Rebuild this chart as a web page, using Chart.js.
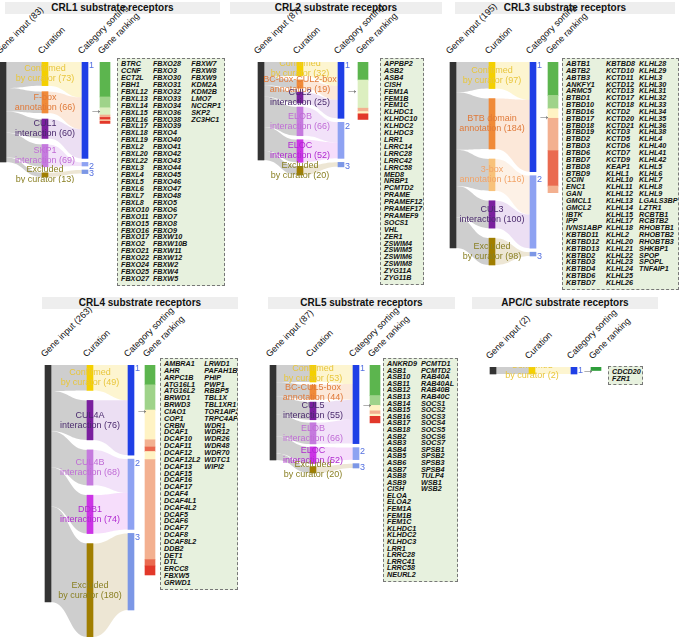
<!DOCTYPE html>
<html>
<head>
<meta charset="utf-8">
<script src="https://cdn.jsdelivr.net/npm/chart.js@4.4.1/dist/chart.umd.min.js"></script>
<style>
  body { margin: 0; background: #fff; font-family: 'Liberation Sans', Arial, sans-serif; }
  #page { position: relative; width: 680px; height: 637px; overflow: hidden; }
  .title { position: absolute; height: 12px; background: #eeeeee; font-weight: bold; font-size: 10px; line-height: 12px; text-align: center; color: #111; }
  .hdr { position: absolute; font-size: 9px; color: #111; white-space: nowrap; transform-origin: 0 100%; transform: rotate(-45deg); }
  .cv { position: absolute; }
  .genes { position: absolute; box-sizing: border-box; border: 1px dashed #777; background: #e7f1de; padding: 2px 3px; overflow: hidden;
           display: grid; grid-auto-flow: column; column-gap: 4px; font-size: 7.2px; font-weight: bold; font-style: italic; color: #111; }
  .genes div { overflow: visible; white-space: nowrap; }
</style>
</head>
<body>
<div id="page"></div>
<script>
// ---- data ----
var crl1Input = 83;
var crl1CurLabels = ['Confirmed\nby curator', 'F-box\nannotation', 'CUL1\ninteraction', 'SKP1\ninteraction', 'Excluded\nby curator'];
var crl1CurCounts = [73, 66, 60, 69, 13];
var crl1Targets = [0, 0, 0, 1, 2];
var crl1Sort = [80, 3, 3];
var crl1Rank = [29, 9, 6, 2, 2, 1, 2];
var crl1Genes = ['BTRC','CCNF','ECT2L','FBH1','FBXL12','FBXL13','FBXL14','FBXL15','FBXL16','FBXL17','FBXL18','FBXL19','FBXL2','FBXL20','FBXL22','FBXL3','FBXL4','FBXL5','FBXL6','FBXL7','FBXL8','FBXO10','FBXO11','FBXO15','FBXO16','FBXO17','FBXO2','FBXO21','FBXO22','FBXO24','FBXO25','FBXO27',
  'FBXO28','FBXO3','FBXO30','FBXO31','FBXO32','FBXO33','FBXO34','FBXO36','FBXO38','FBXO39','FBXO4','FBXO40','FBXO41','FBXO42','FBXO43','FBXO44','FBXO45','FBXO46','FBXO47','FBXO48','FBXO5','FBXO6','FBXO7','FBXO8','FBXO9','FBXW10','FBXW10B','FBXW11','FBXW12','FBXW2','FBXW4','FBXW5',
  'FBXW7','FBXW8','FBXW9','KDM2A','KDM2B','LMO7','NCCRP1','SKP2','ZC3HC1'];

var crl2Input = 87;
var crl2CurLabels = ['Confirmed\nby curator', 'BC-box-CUL2-box\nannotation', 'CUL2\ninteraction', 'ELOB\ninteraction', 'ELOC\ninteraction', 'Excluded\nby curator'];
var crl2CurCounts = [32, 19, 25, 66, 52, 20];
var crl2Targets = [0, 0, 0, 1, 1, 2];
var crl2Sort = [50, 32, 4];
var crl2Rank = [16, 25, 3, 2, 5];
var crl2Genes = ['APPBP2','ASB2','ASB4','CISH','FEM1A','FEM1B','FEM1C','KLHDC1','KLHDC10','KLHDC2','KLHDC3','LRR1','LRRC14','LRRC28','LRRC42','LRRC58','MED8','NRBP1','PCMTD2','PRAME','PRAMEF12','PRAMEF17','PRAMEF9','SOCS1','VHL','ZER1','ZSWIM4','ZSWIM5','ZSWIM6','ZSWIM8','ZYG11A','ZYG11B'];

var crl3Input = 195;
var crl3CurLabels = ['Confirmed\nby curator', 'BTB domain\nannotation', '3-box\nannotation', 'CUL3\ninteraction', 'Excluded\nby curator'];
var crl3CurCounts = [97, 184, 116, 100, 98];
var crl3Targets = [0, 0, 1, 1, 2];
var crl3Sort = [115, 76, 4];
var crl3Rank = [35, 14, 10, 34, 37, 7];
var crl3Genes = ['ABTB1','ABTB2','ABTB3','ANKFY1','ARMC5','BTBD1','BTBD10','BTBD16','BTBD17','BTBD18','BTBD19','BTBD2','BTBD3','BTBD6','BTBD7','BTBD8','BTBD9','CCIN','ENC1','GAN','GMCL1','GMCL2','IBTK','IPP','IVNS1ABP','KBTBD11','KBTBD12','KBTBD13','KBTBD2','KBTBD3','KBTBD4','KBTBD6','KBTBD7',
  'KBTBD8','KCTD10','KCTD11','KCTD12','KCTD13','KCTD17','KCTD18','KCTD2','KCTD20','KCTD21','KCTD3','KCTD5','KCTD6','KCTD7','KCTD9','KEAP1','KLHL1','KLHL10','KLHL11','KLHL12','KLHL13','KLHL14','KLHL15','KLHL17','KLHL18','KLHL2','KLHL20','KLHL21','KLHL22','KLHL23','KLHL24','KLHL25','KLHL26',
  'KLHL28','KLHL29','KLHL3','KLHL30','KLHL31','KLHL32','KLHL33','KLHL34','KLHL35','KLHL36','KLHL38','KLHL4','KLHL40','KLHL41','KLHL42','KLHL5','KLHL6','KLHL7','KLHL8','KLHL9','LGALS3BP','LZTR1','RCBTB1','RCBTB2','RHOBTB1','RHOBTB2','RHOBTB3','SHKBP1','SPOP','SPOPL','TNFAIP1'];

var crl4Input = 263;
var crl4CurLabels = ['Confirmed\nby curator', 'CUL4A\ninteraction', 'CUL4B\ninteraction', 'DDB1\ninteraction', 'Excluded\nby curator'];
var crl4CurCounts = [49, 76, 68, 74, 180];
var crl4Targets = [0, 0, 1, 1, 2];
var crl4Sort = [100, 78, 85];
var crl4Rank = [22, 28, 33, 8, 5, 9, 111, 7, 10];
var crl4Genes = ['AMBRA1','AHR','ARPC1B','ATG16L1','ATG16L2','BRWD1','BRWD3','CIAO1','COP1','CRBN','DCAF1','DCAF10','DCAF11','DCAF12','DCAF12L2','DCAF13','DCAF15','DCAF16','DCAF17','DCAF4','DCAF4L1','DCAF4L2','DCAF5','DCAF6','DCAF7','DCAF8','DCAF8L2','DDB2','DET1','DTL','ERCC8','FBXW5','GRWD1',
  'LRWD1','PAFAH1B1','PHIP','PWP1','RBBP5','TBL1X','TBL1XR1','TOR1AIP2','TRPC4AP','WDR1','WDR12','WDR26','WDR48','WDR70','WDTC1','WIPI2'];

var crl5Input = 87;
var crl5CurLabels = ['Confirmed\nby curator', 'BC-CUL5-box\nannotation', 'CUL5\ninteraction', 'ELOB\ninteraction', 'ELOC\ninteraction', 'Excluded\nby curator'];
var crl5CurCounts = [53, 44, 55, 66, 52, 20];
var crl5Targets = [0, 0, 0, 0, 1, 2];
var crl5Sort = [72, 11, 4];
var crl5Rank = [28, 9, 5, 3, 2, 6];
var crl5Genes = ['ANKRD9','ASB1','ASB10','ASB11','ASB12','ASB13','ASB14','ASB15','ASB16','ASB17','ASB18','ASB2','ASB3','ASB4','ASB5','ASB6','ASB7','ASB8','ASB9','CISH','ELOA','ELOA2','FEM1A','FEM1B','FEM1C','KLHDC1','KLHDC2','KLHDC3','LRR1','LRRC28','LRRC41','LRRC58','NEURL2',
  'PCMTD1','PCMTD2','RAB40A','RAB40AL','RAB40B','RAB40C','SOCS1','SOCS2','SOCS3','SOCS4','SOCS5','SOCS6','SOCS7','SPSB1','SPSB2','SPSB3','SPSB4','TULP4','WSB1','WSB2'];

var apcInput = 2;
var apcCurLabels = ['Confirmed\nby curator'];
var apcCurCounts = [2];
var apcTargets = [0];
var apcSort = [2];
var apcRank = [1];
var apcGenes = ['CDCD20', 'FZR1'];

// ---- styles ----
var CS = {
  conf: { bar: '#f4d000', text: '#e8c63c', flow: 'rgba(250,226,120,0.35)' },
  annot: { bar: '#f08a38', text: '#e07a3a', flow: 'rgba(245,165,105,0.25)' },
  annot2: { bar: '#f8c27a', text: '#f2a468', flow: 'rgba(245,190,140,0.22)' },
  cul: { bar: '#7a1f9e', text: '#4b2b6e', flow: 'rgba(150,80,190,0.18)' },
  elob: { bar: '#c57ade', text: '#c06cd6', flow: 'rgba(210,150,235,0.28)' },
  eloc: { bar: '#cc33e6', text: '#b02ad0', flow: 'rgba(220,120,240,0.25)' },
  excl: { bar: '#a07e00', text: '#8a8024', flow: 'rgba(215,200,160,0.45)' }
};
var SORTC = ['#1f3fe6', '#8ea2f2', '#7c97e6'];
var G1 = '#5cb54e', G2 = '#9fd38a', G3 = '#dcefc0', PY = '#fff3c4', SA = '#f3b090', RD = '#e2382a', RS = '#ea6a50';

var panels = [
  { title: 'CRL1 substrate receptors', tb: [5, 2, 215], input: crl1Input, labels: crl1CurLabels, counts: crl1CurCounts, targets: crl1Targets, sort: crl1Sort, rank: crl1Rank, genes: crl1Genes, rows: 32,
    styles: ['conf', 'annot', 'cul', 'elob', 'excl'], rankColors: [G1, G2, G3, SA, RD, PY, RD],
    x: [3, 45, 85, 105], top: 62, inPx: 100, curSpan: 115, gap: 6, list: [117, 58, 108, 228] },
  { title: 'CRL2 substrate receptors', tb: [230, 2, 212], input: crl2Input, labels: crl2CurLabels, counts: crl2CurCounts, targets: crl2Targets, sort: crl2Sort, rank: crl2Rank, genes: crl2Genes, rows: 32,
    styles: ['conf', 'annot', 'cul', 'elob', 'eloc', 'excl'], rankColors: [G1, G3, SA, PY, RD],
    x: [261, 300, 341, 363], top: 62, inPx: 98, curSpan: 113, gap: 4, list: [380, 58, 44, 227] },
  { title: 'CRL3 substrate receptors', tb: [455, 2, 220], input: crl3Input, labels: crl3CurLabels, counts: crl3CurCounts, targets: crl3Targets, sort: crl3Sort, rank: crl3Rank, genes: crl3Genes, rows: 33,
    styles: ['conf', 'annot', 'annot2', 'cul', 'excl'], rankColors: [G1, G2, PY, SA, RS, SA],
    x: [453, 492, 533, 553], top: 62, inPx: 186, curSpan: 203, gap: 10, list: [562, 58, 117, 232] },
  { title: 'CRL4 substrate receptors', tb: [42, 297, 196], input: crl4Input, labels: crl4CurLabels, counts: crl4CurCounts, targets: crl4Targets, sort: crl4Sort, rank: crl4Rank, genes: crl4Genes, rows: 33,
    styles: ['conf', 'cul', 'elob', 'eloc', 'excl'], rankColors: [G1, G2, PY, SA, RS, PY, SA, RS, RD],
    x: [48, 90, 131, 150], top: 365, inPx: 237, curSpan: 272, gap: 10, list: [160, 358, 78, 232] },
  { title: 'CRL5 substrate receptors', tb: [268, 297, 187], input: crl5Input, labels: crl5CurLabels, counts: crl5CurCounts, targets: crl5Targets, sort: crl5Sort, rank: crl5Rank, genes: crl5Genes, rows: 33,
    styles: ['conf', 'annot', 'cul', 'elob', 'eloc', 'excl'], rankColors: [G1, G2, PY, SA, PY, RD],
    x: [273, 313, 356, 375], top: 365, inPx: 95, curSpan: 108, gap: 3, list: [383, 358, 75, 224] },
  { title: 'APC/C substrate receptors', tb: [472, 297, 186], input: apcInput, labels: apcCurLabels, counts: apcCurCounts, targets: apcTargets, sort: apcSort, rank: apcRank, genes: apcGenes, rows: 2,
    styles: ['conf'], rankColors: ['#2e9e3a'],
    x: [493, 532, 574, 596], top: 367, inPx: 7, curSpan: 7, gap: 0, list: [608, 366, 35, 19] }
];

function band(ctx, x0, a0, b0, x1, a1, b1, color) {
  var xm = (x0 + x1) / 2;
  ctx.beginPath();
  ctx.moveTo(x0, a0);
  ctx.bezierCurveTo(xm, a0, xm, a1, x1, a1);
  ctx.lineTo(x1, b1);
  ctx.bezierCurveTo(xm, b1, xm, b0, x0, b0);
  ctx.closePath();
  ctx.fillStyle = color;
  ctx.fill();
}

var sankeyPlugin = {
  id: 'sankey',
  beforeDatasetsDraw: function (chart) {
    var o = chart.options.plugins.sankey, xs = chart.scales.x, ys = chart.scales.y, ctx = chart.ctx;
    ctx.save();
    o.flows.forEach(function (f) {
      band(ctx, xs.getPixelForValue(f.x0), ys.getPixelForValue(f.a0), ys.getPixelForValue(f.b0),
        xs.getPixelForValue(f.x1), ys.getPixelForValue(f.a1), ys.getPixelForValue(f.b1), f.color);
    });
    ctx.restore();
  },
  afterDatasetsDraw: function (chart) {
    var o = chart.options.plugins.sankey, xs = chart.scales.x, ys = chart.scales.y, ctx = chart.ctx;
    ctx.save();
    ctx.textBaseline = 'middle';
    o.texts.forEach(function (t) {
      var px = xs.getPixelForValue(t.x), py = ys.getPixelForValue(t.y);
      var lines = t.text.split('\n');
      ctx.font = (t.size || 9) + 'px "Liberation Sans", Arial, sans-serif';
      ctx.fillStyle = t.color;
      ctx.textAlign = t.align || 'center';
      lines.forEach(function (l, i) {
        ctx.fillText(l, px, py + (i - (lines.length - 1) / 2) * 10);
      });
    });
    ctx.restore();
  }
};

var page = document.getElementById('page');

panels.forEach(function (p) {
  var tb = document.createElement('div');
  tb.className = 'title';
  tb.style.left = p.tb[0] + 'px';
  tb.style.top = p.tb[1] + 'px';
  tb.style.width = p.tb[2] + 'px';
  tb.textContent = p.title;
  page.appendChild(tb);

  var heads = ['Gene input (' + p.input + ')', 'Curation', 'Category sorting', 'Gene ranking'];
  heads.forEach(function (h, i) {
    var d = document.createElement('div');
    d.className = 'hdr';
    d.textContent = h;
    d.style.left = (p.x[i] - 2) + 'px';
    d.style.top = (p.top - 16) + 'px';
    page.appendChild(d);
  });

  var ppg = p.inPx / p.input;
  var sortTot = p.sort.reduce(function (a, b) { return a + b; }, 0) * ppg + 4 * (p.sort.length - 1);
  var hPx = Math.max(p.curSpan, sortTot, p.inPx) + 6;
  var left = p.x[0] - 6, wPx = p.x[3] - left + 10;

  // curation segments
  var sum = p.counts.reduce(function (a, b) { return a + b; }, 0);
  var k = (p.curSpan - p.gap * (p.counts.length - 1)) / sum / ppg;
  var cur = [], y = 0;
  p.counts.forEach(function (c) { cur.push([y, y + c * k]); y += c * k + p.gap / ppg; });
  // sort segments
  var sortSeg = [];
  y = 0;
  p.sort.forEach(function (s) { sortSeg.push([y, y + s]); y += s + 4 / ppg; });
  // rank bins
  var rankSeg = [];
  y = 0;
  p.rank.forEach(function (r) { rankSeg.push([y, y + r]); y += r; });

  var flows = [], texts = [];
  // input -> curation
  var curTotal = cur.reduce(function (a, s) { return a + (s[1] - s[0]); }, 0);
  var acc = 0;
  cur.forEach(function (s) {
    var h = (s[1] - s[0]) / curTotal * p.input;
    flows.push({ x0: p.x[0] + 3, a0: acc, b0: acc + h, x1: p.x[1] - 3, a1: s[0], b1: s[1], color: 'rgba(190,190,190,0.75)' });
    acc += h;
  });
  // curation -> sorting
  p.sort.forEach(function (s, ti) {
    var src = [];
    p.targets.forEach(function (t, i) { if (t === ti) src.push(i); });
    var tot = src.reduce(function (a, i) { return a + cur[i][1] - cur[i][0]; }, 0);
    var a = sortSeg[ti][0];
    src.forEach(function (i) {
      var h = (cur[i][1] - cur[i][0]) / tot * s;
      flows.push({ x0: p.x[1] + 3, a0: cur[i][0], b0: cur[i][1], x1: p.x[2] - 3, a1: a, b1: a + h, color: CS[p.styles[i]].flow });
      a += h;
    });
  });
  p.labels.forEach(function (l, i) {
    texts.push({ x: p.x[1], y: (cur[i][0] + cur[i][1]) / 2, text: l + ' (' + p.counts[i] + ')', color: CS[p.styles[i]].text });
  });
  if (p.sort.length > 1) {
    sortSeg.forEach(function (s, i) {
      texts.push({ x: p.x[2] + 4, y: s[0] + 4 / ppg, text: String(i + 1), color: '#5470e0', align: 'left' });
    });
  } else {
    texts.push({ x: p.x[2] + 4, y: sortSeg[0][1] / 2, text: '1', color: '#5470e0', align: 'left' });
  }
  texts.push({ x: p.x[2] + (p.sort.length > 1 ? 11 : 14), y: sortSeg[0][1] / 2, text: '\u2192', color: '#666', size: 13 });

  var wrap = document.createElement('div');
  wrap.className = 'cv';
  wrap.style.left = left + 'px';
  wrap.style.top = p.top + 'px';
  wrap.style.width = wPx + 'px';
  wrap.style.height = hPx + 'px';
  var cv = document.createElement('canvas');
  wrap.appendChild(cv);
  page.appendChild(wrap);

  new Chart(cv, {
    type: 'bar',
    data: {
      datasets: [
        { data: [{ x: p.x[0], y: [0, p.input] }], backgroundColor: '#333333', barThickness: 6 },
        { data: cur.map(function (s) { return { x: p.x[1], y: s }; }), backgroundColor: p.styles.map(function (s) { return CS[s].bar; }), barThickness: 6 },
        { data: sortSeg.map(function (s) { return { x: p.x[2], y: s }; }), backgroundColor: SORTC, barThickness: 6 },
        { data: rankSeg.map(function (s) { return { x: p.x[3], y: s }; }), backgroundColor: p.rankColors, barThickness: 10 }
      ]
    },
    options: {
      responsive: true,
      maintainAspectRatio: false,
      animation: false,
      grouped: false,
      layout: { padding: 0 },
      scales: {
        x: { type: 'linear', display: false, min: left, max: left + wPx, offset: false },
        y: { display: false, min: 0, max: hPx / ppg, reverse: true }
      },
      plugins: {
        legend: { display: false },
        tooltip: { enabled: false },
        sankey: { flows: flows, texts: texts }
      }
    },
    plugins: [sankeyPlugin]
  });

  var gl = document.createElement('div');
  gl.className = 'genes';
  gl.style.left = p.list[0] + 'px';
  gl.style.top = p.list[1] + 'px';
  gl.style.width = p.list[2] + 'px';
  gl.style.height = p.list[3] + 'px';
  var rowH = (p.list[3] - 6) / p.rows;
  gl.style.gridTemplateRows = 'repeat(' + p.rows + ', ' + rowH + 'px)';
  gl.style.lineHeight = rowH + 'px';
  gl.style.gridAutoColumns = 'max-content';
  p.genes.forEach(function (g) {
    var s = document.createElement('div');
    s.textContent = g;
    gl.appendChild(s);
  });
  page.appendChild(gl);
});
</script>
</body>
</html>
